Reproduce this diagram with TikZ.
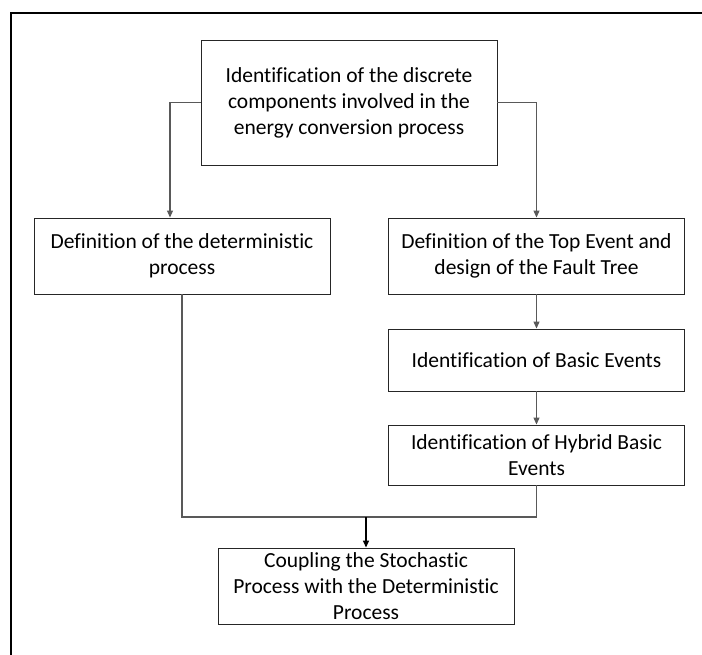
\documentclass[tikz,border=0pt]{standalone}
\usepackage{fontspec}
\setmainfont[Ligatures={NoCommon,NoContextual}]{Carlito}
\usetikzlibrary{arrows.meta}
\begin{document}
\begin{tikzpicture}[x=1pt, y=-1pt,
   every node/.style={font=\fontsize{21.5}{26}\selectfont, align=center, inner sep=0pt},
   stepbox/.style={draw=black!85, line width=0.9pt, minimum width=296pt},
   link/.style={draw=black!65, line width=1.1pt},
   arrow/.style={link, -{Triangle[length=7pt, width=6pt]}}]

\useasboundingbox (0,0) rectangle (702,655);
% frame
\draw[line width=2pt] (11,655) -- (11,13) -- (702,13);

\node[stepbox, minimum height=125pt] (ident) at (349,102.5)
    {Identification of the discrete\\components involved in the\\energy conversion process};
\node[stepbox, minimum height=76pt] (determ) at (182,256)
    {Definition of the deterministic\\process};
\node[stepbox, minimum height=76pt] (top) at (536.5,256)
    {Definition of the Top Event and\\design of the Fault Tree};
\node[stepbox, minimum height=62pt] (basic) at (536.5,360)
    {Identification of Basic Events};
\node[stepbox, minimum height=60pt] (hybrid) at (536.5,455)
    {Identification of Hybrid Basic\\Events};
\node[stepbox, minimum height=76pt] (coupl) at (366,586)
    {Coupling the Stochastic\\Process with the Deterministic\\Process};

\coordinate (join) at (366,517);

\draw[arrow] (ident.west) -| (170,0 |- determ.north);
\draw[arrow] (ident.east) -| (top.north);
\draw[arrow] (top) -- (basic);
\draw[arrow] (basic) -- (hybrid);
\draw[link] (determ.south) |- (join) -| (hybrid.south);
\draw[arrow, draw=black, line width=1.5pt] (join) -- (coupl);

\end{tikzpicture}
\end{document}
